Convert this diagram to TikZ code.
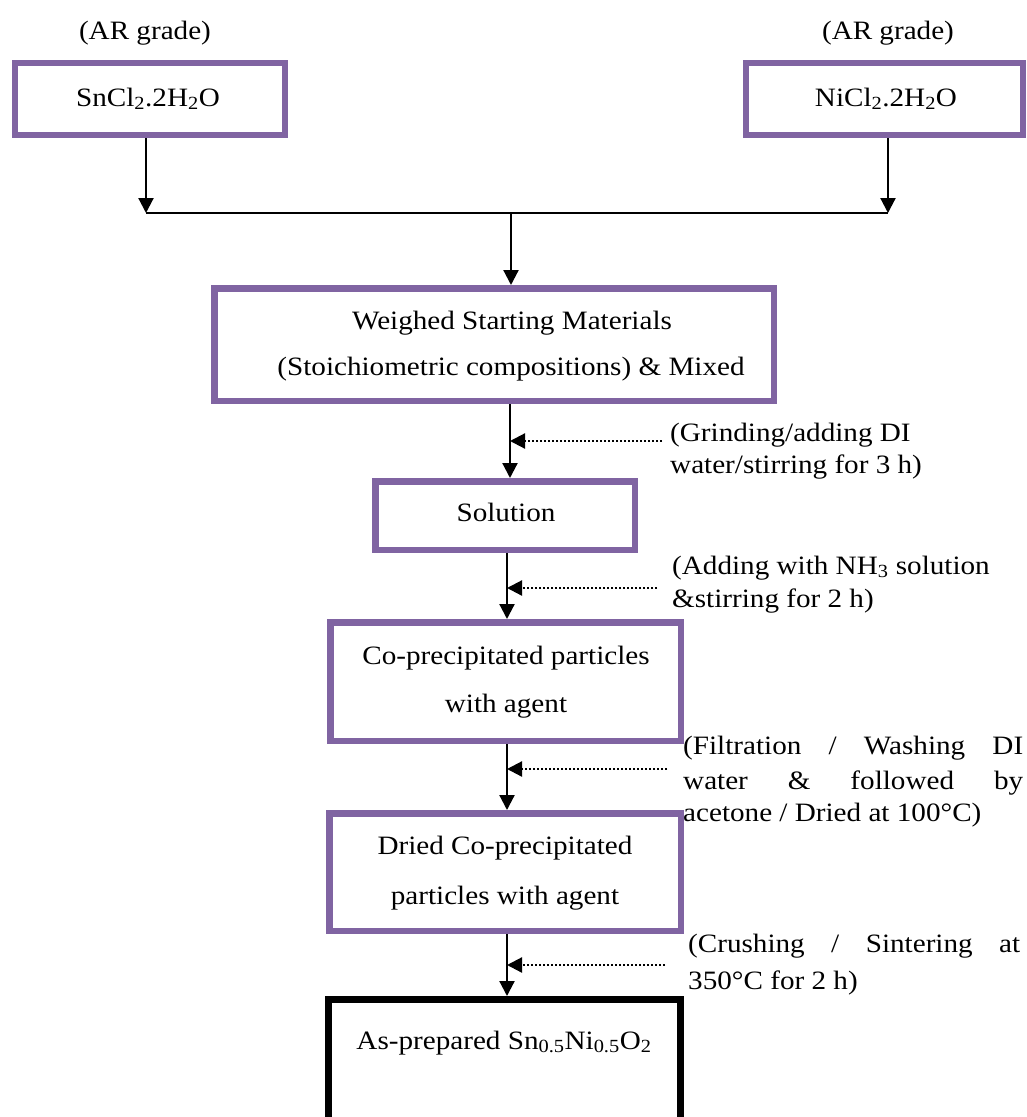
\documentclass[tikz,border=0pt]{standalone}
\usepackage{fontspec}
\setmainfont[FakeStretch=1.1]{Liberation Serif}
\usetikzlibrary{arrows.meta}
\definecolor{boxpurple}{HTML}{8064A2}
\begin{document}
\begin{tikzpicture}[x=1pt,y=-1pt,
  pbox/.style={draw=boxpurple, line width=6.5pt, rectangle, inner sep=0pt},
  fbox/.style={draw=black, line width=7pt, rectangle, inner sep=0pt},
  txt/.style={anchor=base, inner sep=0pt, font=\fontsize{26.5}{30}\selectfont},
  ltxt/.style={txt, anchor=base west},
  arr/.style={line width=2.2pt, -{Triangle[length=15pt,width=15pt]}},
  darr/.style={line width=2.2pt, dash pattern=on 2pt off 2pt, -{Triangle[length=15pt,width=15pt]}},
  plainline/.style={line width=2.2pt}
]
\useasboundingbox (0,0) rectangle (1026,1117);
\fill[white] (0,0) rectangle (1026,1117);

% boxes
\node[pbox, minimum width=270pt, minimum height=72pt] (sn) at (150,99) {};
\node[pbox, minimum width=277pt, minimum height=72pt] (ni) at (884.5,99) {};
\node[pbox, minimum width=559.5pt, minimum height=112.5pt] (wsm) at (494,344.5) {};
\node[pbox, minimum width=259.5pt, minimum height=68.5pt] (sol) at (505,515.5) {};
\node[pbox, minimum width=350.5pt, minimum height=118.5pt] (co) at (505.5,681.5) {};
\node[pbox, minimum width=351.5pt, minimum height=117.5pt] (dr) at (505,872) {};
\node[fbox, minimum width=352pt, minimum height=140.5pt] (fin) at (504.5,1069.75) {};

% texts
\node[txt] (ar1) at (145,39) {(AR grade)};
\node[txt] (ar2) at (888,39) {(AR grade)};
\node[txt] (snt) at (148,106) {SnCl\textsubscript{2}.2H\textsubscript{2}O};
\node[txt] (nit) at (886,106) {NiCl\textsubscript{2}.2H\textsubscript{2}O};
\node[txt] (w1) at (512,329) {Weighed Starting Materials};
\node[txt] (w2) at (511,375) {(Stoichiometric compositions) \& Mixed};
\node[txt] (solt) at (506,521) {Solution};
\node[txt] (co1) at (506,664) {Co-precipitated particles};
\node[txt] (co2) at (506,712) {with agent};
\node[txt] (dr1) at (505,854) {Dried Co-precipitated};
\node[txt] (dr2) at (505,904) {particles with agent};
\node[txt] (fint) at (504,1049) {As-prepared Sn\textsubscript{0.5}Ni\textsubscript{0.5}O\textsubscript{2}};

\node[ltxt] (g1) at (670,441) {(Grinding/adding DI};
\node[ltxt] (g2) at (670,473) {water/stirring for 3 h)};
\node[ltxt] (a1) at (672,574) {(Adding with NH\textsubscript{3} solution};
\node[ltxt] (a2) at (672,607) {\&stirring for 2 h)};
\node[ltxt] (f1) at (683,754) {\makebox[340pt][s]{(Filtration / Washing DI}};
\node[ltxt] (f2) at (683,789) {\makebox[340pt][s]{water \& followed by}};
\node[ltxt] (f3) at (683,821) {acetone / Dried at 100°C)};
\node[ltxt] (k1) at (688,952) {\makebox[332pt][s]{(Crushing / Sintering at}};
\node[ltxt] (k2) at (688,989) {350°C for 2 h)};

% junctions
\coordinate (j1) at (146,213);
\coordinate (j2) at (888,213);
\coordinate (jm) at (511,213);
\coordinate (p1) at (510,441);
\coordinate (q1) at (662,441);
\coordinate (p2) at (507,588);
\coordinate (q2) at (657,588);
\coordinate (p3) at (507,769);
\coordinate (q3) at (667,769);
\coordinate (p4) at (507,965);
\coordinate (q4) at (665,965);

% connectors
\draw[arr] (sn.south -| j1) -- (j1);
\draw[arr] (ni.south -| j2) -- (j2);
\draw[plainline] (j1) -- (j2);
\draw[arr] (jm) -- (wsm.north -| jm);
\draw[arr] (wsm.south -| p1) -- (sol.north -| p1);
\draw[arr] (sol.south -| p2) -- (co.north -| p2);
\draw[arr] (co.south -| p3) -- (dr.north -| p3);
\draw[arr] (dr.south -| p4) -- (fin.north -| p4);
\draw[darr] (q1) -- (p1);
\draw[darr] (q2) -- (p2);
\draw[darr] (q3) -- (p3);
\draw[darr] (q4) -- (p4);
\end{tikzpicture}
\end{document}
